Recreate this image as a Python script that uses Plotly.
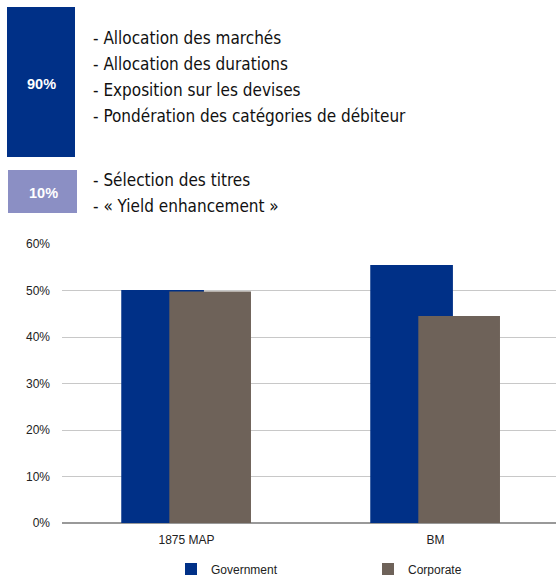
import plotly.graph_objects as go

categories = ["1875 MAP", "BM"]
government = [50.1, 55.5]
corporate = [49.8, 44.5]
y_ticks = [0, 10, 20, 30, 40, 50, 60]
y_tick_labels = ["0%", "10%", "20%", "30%", "40%", "50%", "60%"]

box_labels = ["90%", "10%"]
group1_lines = ["- Allocation des marchés", "- Allocation des durations",
                "- Exposition sur les devises", "- Pondération des catégories de débiteur"]
group2_lines = ["- Sélection des titres", "- « Yield enhancement »"]

FONT = "Liberation Sans, Arial, sans-serif"
BODY_FONT = "DejaVu Sans Condensed, Liberation Sans, sans-serif"
BLUE = "#003087"
BROWN = "#6e6259"
LILAC = "#8b8fc4"

W, H = 556, 576
L, R, T, B = 62, 0, 244, 53
PW = W - L - R
PH = H - T - B

def px(x):
    return (x - L) / PW

def py(y):
    return (H - B - y) / PH

fig = go.Figure()
fig.add_trace(go.Bar(x=categories, y=government, name="Government",
                     marker=dict(color=BLUE, line=dict(width=0)),
                     offset=-0.262, width=0.332))
fig.add_trace(go.Bar(x=categories, y=corporate, name="Corporate",
                     marker=dict(color=BROWN, line=dict(width=0)),
                     offset=-0.069, width=0.328))

shapes = [
    dict(type="rect", xref="paper", yref="paper", x0=px(7), x1=px(75), y0=py(157), y1=py(7),
         fillcolor=BLUE, line=dict(width=0), layer="above"),
    dict(type="rect", xref="paper", yref="paper", x0=px(8), x1=px(77), y0=py(213), y1=py(170),
         fillcolor=LILAC, line=dict(width=0), layer="above"),
]
annotations = [
    dict(text="<b>" + box_labels[0] + "</b>", xref="paper", yref="paper", x=px(41), y=py(84),
         showarrow=False, font=dict(family=FONT, size=14.5, color="white"), xanchor="center", yanchor="middle"),
    dict(text="<b>" + box_labels[1] + "</b>", xref="paper", yref="paper", x=px(43), y=py(193),
         showarrow=False, font=dict(family=FONT, size=14.5, color="white"), xanchor="center", yanchor="middle"),
]
for i, t in enumerate(group1_lines):
    annotations.append(dict(text=t, xref="paper", yref="paper", x=px(91), y=py(38 + 26 * i),
                            showarrow=False, xanchor="left", yanchor="middle",
                            font=dict(family=BODY_FONT, size=17, color="#111")))
for i, t in enumerate(group2_lines):
    annotations.append(dict(text=t, xref="paper", yref="paper", x=px(91), y=py(180 + 26 * i),
                            showarrow=False, xanchor="left", yanchor="middle",
                            font=dict(family=BODY_FONT, size=17, color="#111")))

fig.update_layout(
    width=W, height=H,
    margin=dict(l=L, r=R, t=T, b=B, pad=0, autoexpand=False),
    barmode="overlay",
    plot_bgcolor="white", paper_bgcolor="white",
    font=dict(family=FONT, size=12, color="#333"),
    shapes=shapes, annotations=annotations,
    showlegend=True,
    legend=dict(orientation="h", xref="container", yref="container",
                x=171 / W, xanchor="left", y=(H - 569) / H, yanchor="middle",
                font=dict(family=FONT, size=12, color="#222"), entrywidth=152,
                itemwidth=30, traceorder="normal", bgcolor="rgba(0,0,0,0)"),
    xaxis=dict(range=[-0.5, 1.484], showgrid=False, ticks="", showline=False,
               ticklabelstandoff=8,
               tickfont=dict(family=FONT, size=12, color="#222")),
    yaxis=dict(range=[0, 60], tickmode="array", tickvals=y_ticks, ticktext=y_tick_labels,
               showgrid=True, gridcolor="#c8c8c8", gridwidth=1, zeroline=True, zerolinecolor="#999",
               zerolinewidth=1.5, showline=False, ticks="", ticklabelstandoff=11,
               tickfont=dict(family=FONT, size=12, color="#222")),
)

fig.write_html("out.html", config={"displayModeBar": False},
               post_script="document.body.style.margin='0';")
